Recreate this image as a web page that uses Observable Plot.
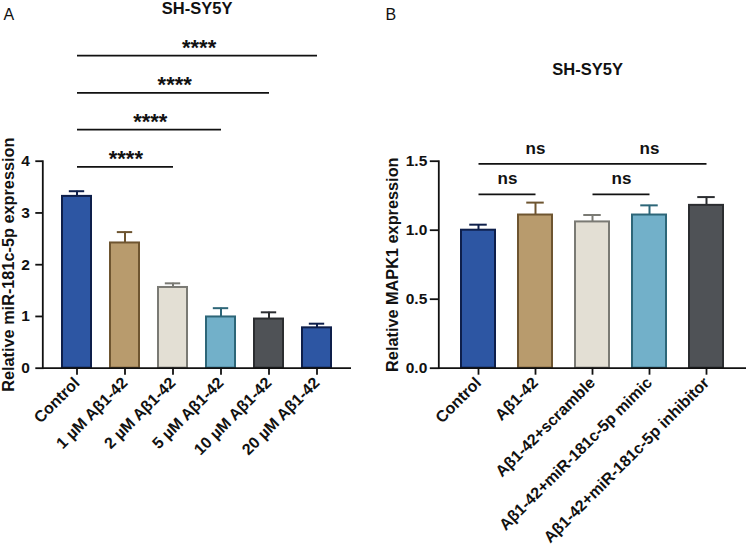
<!DOCTYPE html>
<html>
<head>
<meta charset="utf-8">
<script src="https://cdn.jsdelivr.net/npm/d3@7"></script>
<script src="https://cdn.jsdelivr.net/npm/@observablehq/plot@0.6"></script>
<style>
  body { margin: 0; background: #fff; }
  #fig { position: relative; width: 749px; height: 546px; overflow: hidden; background: #fff; }
  #fig svg { position: absolute; top: 0; overflow: visible; }
</style>
</head>
<body>
<div id="fig"></div>
<script>
// ---- Panel A: miR-181c-5p after Aβ1-42 dose series ----
const groupsA = ["Control", "1 µM Aβ1-42", "2 µM Aβ1-42", "5 µM Aβ1-42", "10 µM Aβ1-42", "20 µM Aβ1-42"];
const meanA = [3.32, 2.42, 1.56, 0.99, 0.95, 0.78];
const semA = [0.10, 0.21, 0.08, 0.17, 0.13, 0.08];
const yTicksA = [0, 1, 2, 3, 4];
const sigFromA = ["Control", "Control", "Control", "Control"];
const sigToA = ["2 µM Aβ1-42", "5 µM Aβ1-42", "10 µM Aβ1-42", "20 µM Aβ1-42"];
const sigYA = [3.89, 4.61, 5.32, 6.04];
const sigTextA = ["****", "****", "****", "****"];

// ---- Panel B: MAPK1 ----
const groupsB = ["Control", "Aβ1-42", "Aβ1-42+scramble", "Aβ1-42+miR-181c-5p mimic", "Aβ1-42+miR-181c-5p inhibitor"];
const meanB = [1.00, 1.11, 1.06, 1.11, 1.18];
const semB = [0.04, 0.09, 0.05, 0.07, 0.06];
const yTicksB = [0, 0.5, 1.0, 1.5];
const sigFromB = ["Control", "Aβ1-42+scramble", "Control"];
const sigToB = ["Aβ1-42", "Aβ1-42+miR-181c-5p mimic", "Aβ1-42+miR-181c-5p inhibitor"];
const sigYB = [1.26, 1.26, 1.48];
// the long Control–inhibitor line carries two "ns" marks over these groups
const nsOverB = ["Aβ1-42", "Aβ1-42+miR-181c-5p mimic"];

// Prism-like fills and outlines
const fillA = ["#2d56a3", "#b89b6d", "#e3dfd4", "#72b0c9", "#4f5256", "#2d56a3"];
const lineA = ["#0e1f4b", "#6e5530", "#7a7a74", "#2d6678", "#2b2d30", "#0e1f4b"];
const fillB = ["#2d56a3", "#b89b6d", "#e3dfd4", "#72b0c9", "#4f5256"];
const lineB = ["#0e1f4b", "#6e5530", "#7a7a74", "#2d6678", "#2b2d30"];

const FONT = "'Liberation Sans', Arial, Helvetica, sans-serif";
const H = 546, MT = 160.7, MB = H - 367.7;
const PAD_IN = 0.36, PAD_OUT = 0.34;

function panel({groups, mean, sem, fills, lines, yDomain, yTicks, yFmt, yTickSize, yTickPad, width, ml, mr,
                yTitle, yTitleDx, letter, letterDx, title, titleDx, titleDy, sig, sigExtra}) {
  const rows = groups.map((g, i) => ({group: g, mean: mean[i], top: mean[i] + sem[i], fill: fills[i], line: lines[i]}));
  const inner = width - ml - mr;
  const step = inner / (groups.length - PAD_IN + 2 * PAD_OUT);
  const bw = step * (1 - PAD_IN);
  const idx = (g) => groups.indexOf(g);

  const sigMarks = sig.flatMap((s) => [
    Plot.link([s], {x1: "from", x2: "to", y1: "y", y2: "y", stroke: "#111", strokeWidth: 1.8}),
    ...(s.text ? [Plot.text([s], {
      x: "from", y: "y", text: "text",
      dx: (idx(s.to) - idx(s.from)) * step / 2,
      dy: s.textDy, lineAnchor: "bottom",
      fontSize: s.size, fontWeight: "bold", fill: "#111"
    })] : [])
  ]);

  return Plot.plot({
    width, height: H,
    marginLeft: ml, marginRight: mr, marginTop: MT, marginBottom: MB,
    style: {fontFamily: FONT, fontSize: "15px", fontWeight: "bold", color: "#111", background: "transparent"},
    x: {domain: groups, paddingInner: PAD_IN, paddingOuter: PAD_OUT},
    y: {domain: yDomain},
    color: {type: "identity"},
    marks: [
      Plot.ruleX(rows, {x: "group", y1: "mean", y2: "top", stroke: "line", strokeWidth: 2}),
      Plot.tickY(rows, {x: "group", y: "top", stroke: "line", strokeWidth: 2, insetLeft: bw / 4, insetRight: bw / 4}),
      Plot.barY(rows, {x: "group", y: "mean", fill: "fill", stroke: "line", strokeWidth: 2, insetLeft: 1, insetRight: 1}),
      Plot.frame({anchor: "left", stroke: "#111", strokeWidth: 1.8}),
      Plot.ruleY([0], {stroke: "#111", strokeWidth: 1.8}),
      Plot.axisY({ticks: yTicks, tickFormat: yFmt, tickSize: yTickSize, tickPadding: yTickPad, strokeWidth: 1.8, label: null, fontSize: 15.5}),
      Plot.axisX({tickRotate: -45, tickSize: 7, tickPadding: 5, strokeWidth: 1.8, label: null, fontSize: 16}),
      ...sigMarks,
      ...(sigExtra || []),
      Plot.text([yTitle], {frameAnchor: "left", dx: yTitleDx, rotate: -90, textAnchor: "middle", lineAnchor: "middle", fontSize: 16.3, fontWeight: "bold", fill: "#111"}),
      Plot.text([title], {frameAnchor: "top", dx: titleDx, dy: titleDy, lineAnchor: "bottom", fontSize: 16.5, fontWeight: "bold", fill: "#111"}),
      Plot.text([letter], {frameAnchor: "top-left", dx: letterDx, dy: 19.3 - MT, textAnchor: "start", lineAnchor: "bottom", fontSize: 16, fontWeight: "normal", fill: "#111"})
    ]
  });
}

const sigA = sigFromA.map((f, i) => ({from: f, to: sigToA[i], y: sigYA[i], text: sigTextA[i], textDy: -0.5, size: 22}));
const sigB = sigFromB.map((f, i) => ({from: f, to: sigToB[i], y: sigYB[i], text: i < 2 ? "ns" : null, textDy: -10, size: 17}));
const nsB = nsOverB.map((g) => ({group: g, y: sigYB[2], text: "ns"}));

const plotA = panel({
  groups: groupsA, mean: meanA, sem: semA, fills: fillA, lines: lineA,
  yDomain: [0, 4], yTicks: yTicksA, yFmt: d3.format("d"), yTickSize: 7, yTickPad: 6,
  width: 375, ml: 42.3, mr: 24,
  yTitle: "Relative miR-181c-5p expression", yTitleDx: 8.5 - 42.3,
  letter: "A", letterDx: 3 - 42.3,
  title: "SH-SY5Y", titleDx: 0, titleDy: 13.5 - MT,
  sig: sigA
});

const plotB = panel({
  groups: groupsB, mean: meanB, sem: semB, fills: fillB, lines: lineB,
  yDomain: [0, 1.5], yTicks: yTicksB, yFmt: d3.format(".1f"), yTickSize: 8.5, yTickPad: 3,
  width: 374, ml: 63.3, mr: 3,
  yTitle: "Relative MAPK1 expression", yTitleDx: 392 - 375 - 63.3,
  letter: "B", letterDx: 10 - 63.3,
  title: "SH-SY5Y", titleDx: -5, titleDy: 74 - MT,
  sig: sigB,
  sigExtra: [Plot.text(nsB, {x: "group", y: "y", text: "text", dy: -10, lineAnchor: "bottom", fontSize: 17, fontWeight: "bold", fill: "#111"})]
});

plotA.style.left = "0px";
plotB.style.left = "375px";
document.getElementById("fig").append(plotA, plotB);
</script>
</body>
</html>
